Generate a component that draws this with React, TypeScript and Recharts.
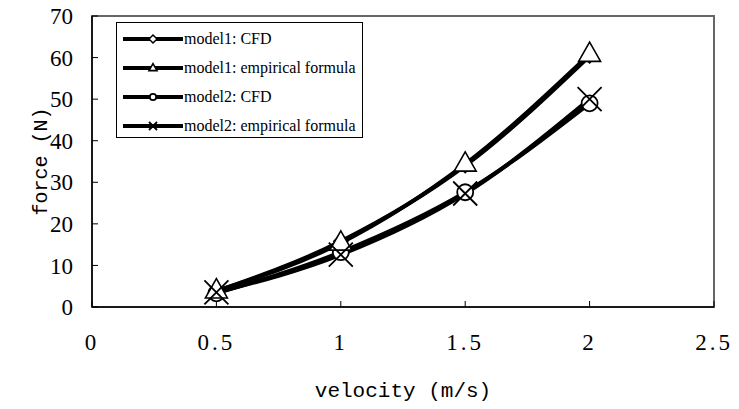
import React from 'react';
import { LineChart, Line, XAxis, YAxis, ReferenceArea } from 'recharts';

const velocity = [0.5, 1, 1.5, 2];
const model1Cfd = [3.8, 15.8, 34.0, 60.4];
const model1Formula = [3.9, 15.4, 34.4, 60.8];
const model2Cfd = [3.3, 13.2, 27.6, 49.0];
const model2Formula = [3.5, 12.6, 27.3, 50.0];
const xTicks = [0, 0.5, 1, 1.5, 2, 2.5];
const yTicks = [0, 10, 20, 30, 40, 50, 60, 70];

const data = velocity.map((v, i) => ({
  v,
  m1cfd: model1Cfd[i],
  m1emp: model1Formula[i],
  m2cfd: model2Cfd[i],
  m2emp: model2Formula[i],
}));

type Kind = 'diamond' | 'triangle' | 'circle' | 'cross';

function Marker({ kind, cx, cy, s }: { kind: Kind; cx: number; cy: number; s: number }) {
  if (kind === 'diamond') {
    return <path d={`M${cx},${cy - s} L${cx + s},${cy} L${cx},${cy + s} L${cx - s},${cy} Z`} fill="#fff" stroke="#000" strokeWidth={1.5} />;
  }
  if (kind === 'triangle') {
    return <path d={`M${cx},${cy - s * 1.1} L${cx + s},${cy + s * 0.65} L${cx - s},${cy + s * 0.65} Z`} fill="#fff" stroke="#000" strokeWidth={1.6} />;
  }
  if (kind === 'circle') {
    return <circle cx={cx} cy={cy} r={s * 0.8} fill="#fff" stroke="#000" strokeWidth={1.8} />;
  }
  return (
    <path d={`M${cx - s},${cy - s} L${cx + s},${cy + s} M${cx + s},${cy - s} L${cx - s},${cy + s}`} stroke="#000" strokeWidth={1.8} fill="none" />
  );
}

const dotFor = (kind: Kind, s: number) => (props: any) => {
  const { cx, cy, index } = props;
  if (cx == null || cy == null) return <g key={index} />;
  return <Marker key={index} kind={kind} cx={cx} cy={cy} s={s} />;
};

const legendItems: { label: string; kind: Kind }[] = [
  { label: 'model1: CFD', kind: 'diamond' },
  { label: 'model1: empirical formula', kind: 'triangle' },
  { label: 'model2: CFD', kind: 'circle' },
  { label: 'model2: empirical formula', kind: 'cross' },
];

// legend drawn as an overlay so it doesn't eat into the plot area
function LegendBox() {
  return (
    <svg width={247} height={116} style={{ position: 'absolute', left: 116, top: 22 }}>
      <rect x={0.5} y={0.5} width={246} height={115} fill="#fff" stroke="#000" strokeWidth={1} />
      {legendItems.map((it, i) => {
        const y = 17 + i * 29;
        return (
          <g key={it.label}>
            <line x1={7} x2={67} y1={y} y2={y} stroke="#000" strokeWidth={4} />
            <Marker kind={it.kind} cx={37} cy={y} s={4} />
            <text x={68} y={y + 5} fontFamily="'Liberation Serif', serif" fontSize={16} fill="#000">
              {it.label}
            </text>
          </g>
        );
      })}
    </svg>
  );
}

const yTickStyle = { fontFamily: "'Liberation Serif', serif", fontSize: 23, fill: '#000' };
const xTickStyle = { ...yTickStyle, letterSpacing: 3 };
const titleStyle = { fontFamily: "'Liberation Mono', monospace", fill: '#000' };

export default function App() {
  return (
    <div style={{ position: 'absolute', left: 0, top: 0, width: 739, height: 409, background: '#fff' }}>
      <LineChart width={739} height={409} data={data} margin={{ top: 16, right: 25, left: 0, bottom: 0 }}>
        <ReferenceArea x1={0} x2={2.5} y1={0} y2={70} fill="none" stroke="#666" strokeWidth={2} ifOverflow="visible" />
        <XAxis
          type="number"
          dataKey="v"
          domain={[0, 2.5]}
          ticks={xTicks}
          height={102}
          tickSize={-6}
          tickMargin={33}
          axisLine={{ stroke: '#000', strokeWidth: 1.5 }}
          tickLine={{ stroke: '#000' }}
          tick={xTickStyle}
          label={{ value: 'velocity (m/s)', position: 'insideBottom', offset: 12, style: { ...titleStyle, fontSize: 21 } }}
        />
        <YAxis
          type="number"
          domain={[0, 70]}
          ticks={yTicks}
          width={92}
          tickSize={-6}
          tickMargin={25}
          axisLine={{ stroke: '#000', strokeWidth: 1.5 }}
          tickLine={{ stroke: '#000' }}
          tick={yTickStyle}
          label={{ value: 'force (N)', angle: -90, position: 'insideLeft', offset: 40, style: { ...titleStyle, fontSize: 20, textAnchor: 'middle' } }}
        />
        <Line type="monotone" dataKey="m1cfd" stroke="#000" strokeWidth={4} dot={dotFor('diamond', 7)} isAnimationActive={false} />
        <Line type="monotone" dataKey="m2cfd" stroke="#000" strokeWidth={4} dot={dotFor('circle', 10)} isAnimationActive={false} />
        <Line type="monotone" dataKey="m1emp" stroke="#000" strokeWidth={4} dot={dotFor('triangle', 11)} isAnimationActive={false} />
        <Line type="monotone" dataKey="m2emp" stroke="#000" strokeWidth={4} dot={dotFor('cross', 12)} isAnimationActive={false} />
      </LineChart>
      <LegendBox />
    </div>
  );
}
